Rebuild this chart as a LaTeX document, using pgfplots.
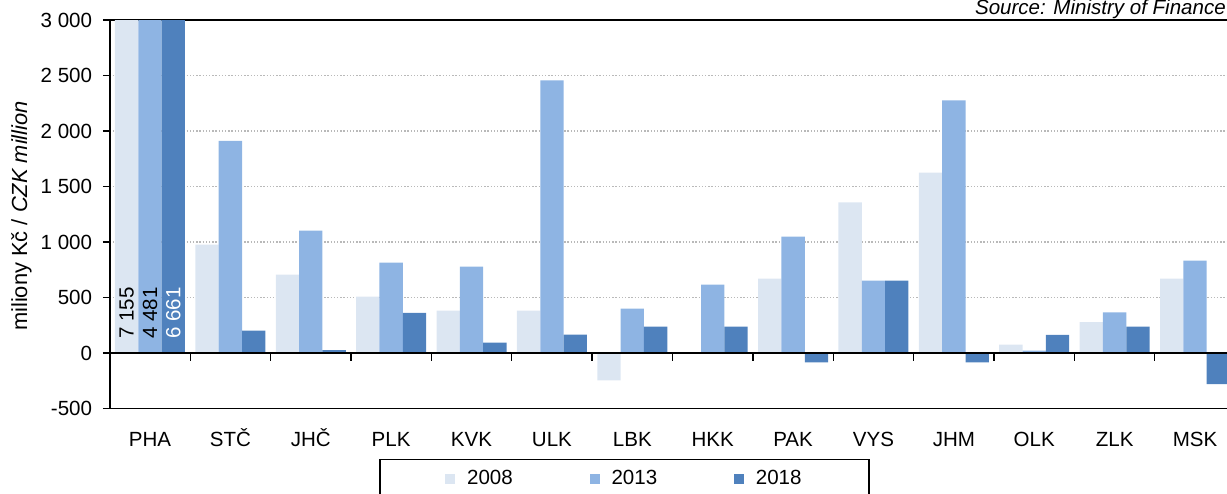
\documentclass[border=0pt]{standalone}
\usepackage{pgfplots}
\pgfplotsset{compat=1.18}
\usepackage{fontspec}
\setmainfont{Liberation Sans}
\definecolor{cA}{HTML}{DCE6F2}
\definecolor{cB}{HTML}{8EB4E3}
\definecolor{cC}{HTML}{4F81BD}
\newcommand\f{\fontsize{15.4pt}{18pt}\selectfont}
\begin{document}
\begin{tikzpicture}
\path[use as bounding box] (0,0) rectangle (920.25pt,369.75pt);
\clip (0,0) rectangle (920.25pt,369.75pt);
\begin{axis}[
  at={(82.35pt,63.375pt)}, anchor=south west,
  scale only axis, width=844.05pt, height=291.375pt,
  xmin=-0.5, xmax=13.5, ymin=-500, ymax=3000,
  axis line style={black, line width=1.1pt},
  xtick={0,...,13},
  xticklabels={PHA,STČ,JHČ,PLK,KVK,ULK,LBK,HKK,PAK,VYS,JHM,OLK,ZLK,MSK},
  xtick style={draw=none},
  xticklabel style={font=\f, inner sep=0pt, text height=10.9pt, anchor=north, yshift=-12.4pt},
  ytick={-500,0,500,1000,1500,2000,2500,3000},
  yticklabels={-500,0,500,1 000,1 500,2 000,2 500,3 000},
  yticklabel style={font=\f, xshift=-4.5pt},
  ytick pos=left, xtick pos=bottom,
  tick align=outside,
  major tick length=5.25pt,
  ytick style={black, line width=1pt},
  ymajorgrids,
  grid style={gray!55, line width=1pt, dash pattern=on 1.1pt off 1.3pt},
  bar width=17.5pt,
  legend columns=3,
  legend style={at={(0.4575,-0.1300)}, anchor=north, draw=black, line width=1.1pt,
    font=\f, inner xsep=48.75pt, inner ysep=6pt,
    /tikz/every even column/.append style={column sep=55.5pt},
    /tikz/every odd column/.append style={column sep=7pt}},
]
\addplot[ybar, bar shift=-17.5pt, fill=cA, draw=none,
  legend image code/.code={\fill[cA] (0pt,-3.75pt) rectangle (7.5pt,3.75pt);}]
  coordinates {(0,7155) (1,976) (2,705) (3,509) (4,382) (5,382) (6,-247) (7,0) (8,669) (9,1356) (10,1626) (11,75) (12,278) (13,670)};
\addlegendentry{2008}
\addplot[ybar, bar shift=0pt, fill=cB, draw=none,
  legend image code/.code={\fill[cB] (0pt,-3.75pt) rectangle (7.5pt,3.75pt);}]
  coordinates {(0,4481) (1,1910) (2,1103) (3,814) (4,778) (5,2457) (6,400) (7,615) (8,1049) (9,651) (10,2276) (11,21) (12,366) (13,833)};
\addlegendentry{2013}
\addplot[ybar, bar shift=17.5pt, fill=cC, draw=none,
  legend image code/.code={\fill[cC] (0pt,-3.75pt) rectangle (7.5pt,3.75pt);}]
  coordinates {(0,6661) (1,202) (2,27) (3,362) (4,93) (5,165) (6,238) (7,238) (8,-84) (9,651) (10,-84) (11,164) (12,238) (13,-280)};
\addlegendentry{2018}
\draw[black, line width=1.1pt] (axis cs:-0.5,0) -- (axis cs:13.5,0);
\pgfplotsinvokeforeach{0.5,1.5,...,12.5}{\draw[black, line width=1pt] (axis cs:#1,0) -- ++(0pt,-6pt);}
\node[rotate=90, anchor=west, inner sep=0pt, font=\f, text=black] at (axis cs:-0.29,125) {7 155};
\node[rotate=90, anchor=west, inner sep=0pt, font=\f, text=black] at (axis cs:0,125) {4 481};
\node[rotate=90, anchor=west, inner sep=0pt, font=\f, text=white] at (axis cs:0.29,125) {6 661};
\end{axis}
\node[rotate=90, font=\fontsize{16.4pt}{18pt}\selectfont] at (16pt,207.75pt) {miliony Kč / \textit{CZK million}};
\node[anchor=base east, inner sep=0pt, font=\fontsize{15.4pt}{18pt}\selectfont\itshape] at (919.5pt,358.5pt) {Source: Ministry of Finance};
\end{tikzpicture}
\end{document}
